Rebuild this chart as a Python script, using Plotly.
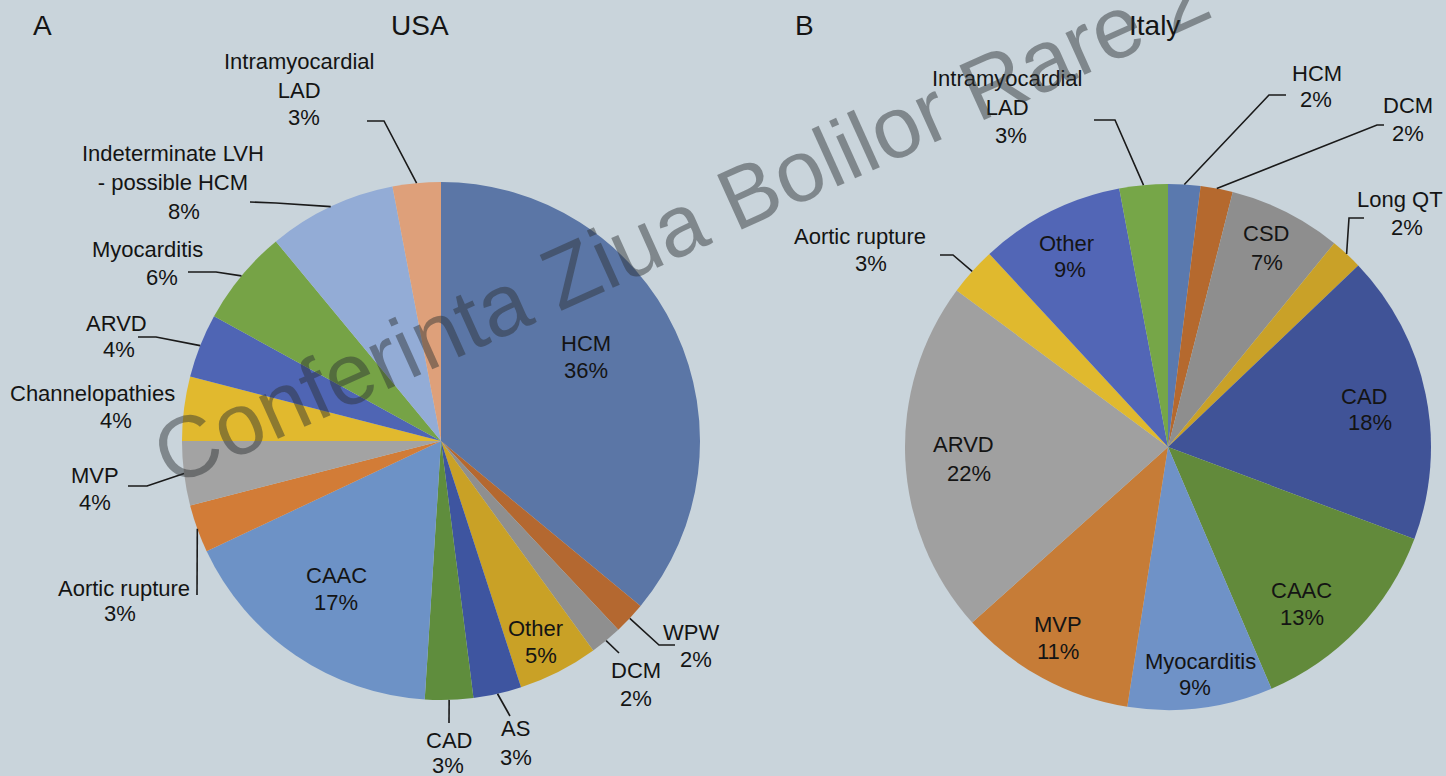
import math
import plotly.graph_objects as go

W, H = 1446, 776

# ---------------- data ----------------
usa_labels = ["HCM", "WPW", "DCM", "Other", "AS", "CAD", "CAAC", "Aortic rupture",
              "MVP", "Channelopathies", "ARVD", "Myocarditis",
              "Indeterminate LVH<br>- possible HCM", "Intramyocardial<br>LAD"]
usa_values = [36, 2, 2, 5, 3, 3, 17, 3, 4, 4, 4, 6, 8, 3]

italy_labels = ["HCM", "DCM", "CSD", "Long QT", "CAD", "CAAC", "Myocarditis", "MVP",
                "ARVD", "Aortic rupture", "Other", "Intramyocardial<br>LAD"]
italy_values = [2, 2, 7, 2, 18, 13, 9, 11, 22, 3, 9, 3]

# ---------------- styles ----------------
usa_colors = ["#5b76a6", "#b46830", "#8f8f8f", "#c9a126", "#3e55a0", "#5f8d3d",
              "#6d92c6", "#d27c37", "#a3a3a3", "#e1b92e", "#4f65b4", "#76a346",
              "#93acd6", "#dea07a"]
italy_colors = ["#5a79ae", "#b5692e", "#8e8e8e", "#c9a128", "#405397", "#628a3b",
                "#6f92c7", "#c67c37", "#a0a0a0", "#e0b92e", "#5266b6", "#76a648"]

BG = "#c9d4db"
FONT = "Liberation Sans, Arial, Helvetica, sans-serif"
TXT = "#141414"
LABEL_SIZE = 22

# pie geometry (pixels): centre x, centre y, radius
usa_geo = (441, 441, 259)
italy_geo = (1168, 447, 263)

# label placement (pixels): name centre, percent centre, leader elbow points
usa_layout = [
    ((586, 343), (586, 370), None),
    ((691, 632), (696, 659), [(659, 645), (675, 645)]),
    ((636, 670), (636, 698), [(619, 653)]),
    ((535, 628), (541, 655), None),
    ((515, 728), (516, 757), [(510, 716)]),
    ((449, 740), (448, 765), [(449, 723)]),
    ((336, 575), (336, 602), None),
    ((124, 588), (120, 613), [(197, 595)]),
    ((95, 475), (95, 502), [(147, 486), (128, 486)]),
    ((93, 393), (116, 420), None),
    ((116, 323), (119, 350), [(156, 337), (138, 337)]),
    ((147, 250), (162, 277), [(216, 272), (188, 272)]),
    ((173, 168), (184, 212), [(276, 203), (250, 202)]),
    ((299, 76), (304, 117), [(384, 121), (367, 121)]),
]
italy_layout = [
    ((1317, 73), (1316, 100), [(1269, 95), (1286, 95)]),
    ((1408, 106), (1408, 133), [(1377, 125), (1384, 125)]),
    ((1266, 233), (1267, 262), None),
    ((1400, 200), (1407, 227), [(1349, 218), (1364, 218)]),
    ((1364, 397), (1370, 423), None),
    ((1301, 590), (1302, 617), None),
    ((1200, 661), (1195, 687), None),
    ((1058, 624), (1058, 651), None),
    ((963, 445), (969, 473), None),
    ((860, 236), (871, 263), [(953, 255), (940, 255)]),
    ((1066, 243), (1070, 269), None),
    ((1007, 93), (1011, 135), [(1115, 120), (1094, 120)]),
]


def px(x):
    return x / W


def py(y):
    return 1 - y / H


def domain(geo):
    cx, cy, r = geo
    return dict(x=[px(cx - r), px(cx + r)], y=[py(cy + r), py(cy - r)])


fig = go.Figure()
for labels, values, colors, geo in [(usa_labels, usa_values, usa_colors, usa_geo),
                                    (italy_labels, italy_values, italy_colors, italy_geo)]:
    fig.add_trace(go.Pie(
        labels=labels, values=values, sort=False, direction="clockwise", rotation=0,
        marker=dict(colors=colors, line=dict(width=0)),
        textinfo="none", hoverinfo="label+percent", showlegend=False,
        domain=domain(geo),
    ))

annotations = []
shapes = []


def add_labels(labels, values, geo, layout):
    cx, cy, r = geo
    total = float(sum(values))
    cum = 0.0
    for lab, val, (name_xy, pct_xy, leader) in zip(labels, values, layout):
        mid = (cum + val / 2.0) / total * 2 * math.pi
        cum += val
        pct = f"{val}%"
        annotations.append(dict(x=px(name_xy[0]), y=py(name_xy[1]), xref="paper", yref="paper",
                                text=lab, showarrow=False, xanchor="center", yanchor="middle",
                                font=dict(family=FONT, size=LABEL_SIZE, color=TXT)))
        annotations.append(dict(x=px(pct_xy[0]), y=py(pct_xy[1]), xref="paper", yref="paper",
                                text=pct, showarrow=False, xanchor="center", yanchor="middle",
                                font=dict(family=FONT, size=LABEL_SIZE, color=TXT)))
        if leader:
            ex = cx + r * math.sin(mid)
            ey = cy - r * math.cos(mid)
            pts = [(ex, ey)] + leader
            path = "M " + " L ".join(f"{px(x):.5f},{py(y):.5f}" for x, y in pts)
            shapes.append(dict(type="path", path=path, xref="paper", yref="paper",
                               line=dict(color="#1a1a1a", width=1.6)))


add_labels(usa_labels, usa_values, usa_geo, usa_layout)
add_labels(italy_labels, italy_values, italy_geo, italy_layout)

# panel letters and titles
for txt, x in [("A", 42), ("USA", 420), ("B", 804), ("Italy", 1154)]:
    annotations.append(dict(x=px(x), y=py(26), xref="paper", yref="paper", text=txt,
                            showarrow=False, xanchor="center", yanchor="middle",
                            font=dict(family=FONT, size=28, color=TXT)))

# watermark
annotations.append(dict(x=px(681), y=py(224), xref="paper", yref="paper",
                        text="Conferinta Ziua Bolilor Rare 2", showarrow=False,
                        xanchor="center", yanchor="middle", textangle=-24.3,
                        font=dict(family=FONT, size=87, color="rgba(45,48,52,0.47)")))

fig.update_layout(
    width=W, height=H, margin=dict(l=0, r=0, t=0, b=0),
    paper_bgcolor=BG, plot_bgcolor=BG,
    annotations=annotations, shapes=shapes, showlegend=False,
)

fig.write_html("out.html", config={"displayModeBar": False},
               post_script="document.body.style.margin='0px';document.body.style.overflow='hidden';")
